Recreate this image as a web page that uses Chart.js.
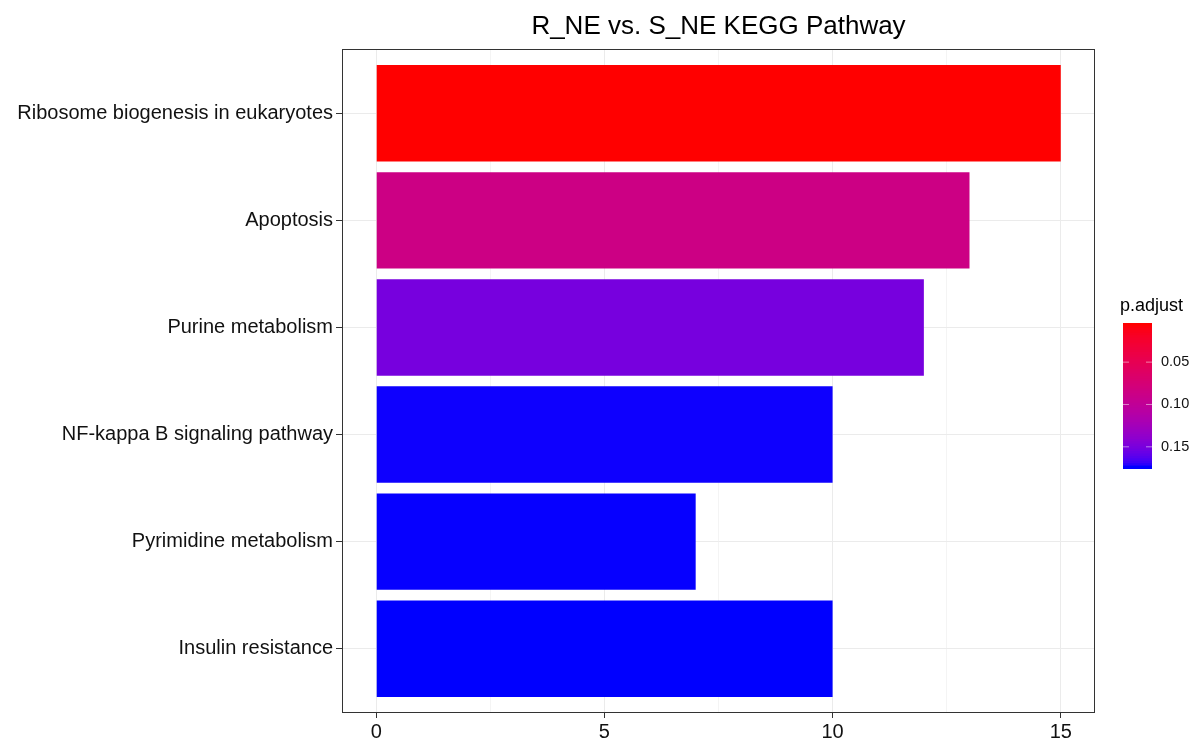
<!DOCTYPE html>
<html>
<head>
<meta charset="utf-8">
<script src="https://cdn.jsdelivr.net/npm/chart.js@4.4.1/dist/chart.umd.min.js"></script>
<style>
  html, body { margin: 0; padding: 0; background: #ffffff; }
  #wrap { width: 1198px; height: 740px; position: relative; }
</style>
</head>
<body>
<div id="wrap"><canvas id="c" width="1198" height="740"></canvas></div>
<script>
// ---- data ----
const chartTitle = "R_NE vs. S_NE KEGG Pathway";
const categories = [
  "Ribosome biogenesis in eukaryotes",
  "Apoptosis",
  "Purine metabolism",
  "NF-kappa B signaling pathway",
  "Pyrimidine metabolism",
  "Insulin resistance"
];
const counts = [15, 13, 12, 10, 7, 10];
const pAdjust = [0.0038, 0.086, 0.152, 0.1745, 0.1748, 0.175];
const xTickValues = [0, 2.5, 5, 7.5, 10, 12.5, 15];
const legendTitle = "p.adjust";
const legendTicks = [0.05, 0.10, 0.15];

// ---- colour scale (Lab interpolation red -> blue, like ggplot) ----
function toLin(c){ c/=255; return c<=0.04045 ? c/12.92 : Math.pow((c+0.055)/1.055, 2.4); }
function fromLin(c){ c = c<=0.0031308 ? 12.92*c : 1.055*Math.pow(c,1/2.4)-0.055; return Math.round(Math.max(0,Math.min(1,c))*255); }
function f(t){ return t>0.008856 ? Math.cbrt(t) : 7.787*t+16/116; }
function finv(t){ const t3=t*t*t; return t3>0.008856 ? t3 : (t-16/116)/7.787; }
function rgb2lab(r,g,b){
  const R=toLin(r),G=toLin(g),B=toLin(b);
  const X=(0.4124564*R+0.3575761*G+0.1804375*B)/0.95047;
  const Y=(0.2126729*R+0.7151522*G+0.0721750*B);
  const Z=(0.0193339*R+0.1191920*G+0.9503041*B)/1.08883;
  const fx=f(X),fy=f(Y),fz=f(Z);
  return [116*fy-16, 500*(fx-fy), 200*(fy-fz)];
}
function lab2rgb(L,a,b){
  const fy=(L+16)/116, fx=fy+a/500, fz=fy-b/200;
  const X=finv(fx)*0.95047, Y=finv(fy), Z=finv(fz)*1.08883;
  const R= 3.2404542*X-1.5371385*Y-0.4985314*Z;
  const G=-0.9692660*X+1.8760108*Y+0.0415560*Z;
  const B= 0.0556434*X-0.2040259*Y+1.0572252*Z;
  return `rgb(${fromLin(R)},${fromLin(G)},${fromLin(B)})`;
}
const labLow = rgb2lab(255,0,0), labHigh = rgb2lab(0,0,255);
const pMin = Math.min(...pAdjust), pMax = Math.max(...pAdjust);
function colorAt(t){
  return lab2rgb(labLow[0]+(labHigh[0]-labLow[0])*t, labLow[1]+(labHigh[1]-labLow[1])*t, labLow[2]+(labHigh[2]-labLow[2])*t);
}
function colorForP(p){ return colorAt((p-pMin)/(pMax-pMin)); }

const FONT = "'Liberation Sans', Arial, Helvetica, sans-serif";

const decorPlugin = {
  id: 'decor',
  afterDatasetsDraw(chart){
    const {ctx, chartArea:a} = chart;
    ctx.save();
    ctx.strokeStyle = '#333333';
    ctx.lineWidth = 1;
    ctx.strokeRect(Math.round(a.left)+0.5, Math.round(a.top)+0.5, Math.round(a.right-a.left)-1, Math.round(a.bottom-a.top)-1);
    ctx.restore();
  },
  afterDraw(chart){
    const {ctx, chartArea:a} = chart;
    ctx.save();
    // title
    ctx.fillStyle = '#000000';
    ctx.font = `26px ${FONT}`;
    ctx.textAlign = 'center';
    ctx.textBaseline = 'middle';
    ctx.fillText(chartTitle, (a.left+a.right)/2, 27);
    // legend colour bar
    const bx = 1123, bw = 29, by = 323, bh = 145;
    ctx.font = `18px ${FONT}`;
    ctx.textAlign = 'left';
    ctx.fillText(legendTitle, bx-3, 306);
    const n = 60;
    for (let i=0;i<n;i++){
      ctx.fillStyle = colorAt(i/(n-1));
      const y0 = by + bh*i/n;
      ctx.fillRect(bx, y0, bw, bh/n + 1);
    }
    ctx.fillStyle = colorAt(1);
    ctx.fillRect(bx, by+bh-2, bw, 2);
    ctx.font = `14.5px ${FONT}`;
    ctx.textBaseline = 'middle';
    legendTicks.forEach(v => {
      const y = by + (v-pMin)/(pMax-pMin)*bh;
      ctx.strokeStyle = 'rgba(255,255,255,0.5)';
      ctx.lineWidth = 1;
      ctx.beginPath();
      ctx.moveTo(bx, y); ctx.lineTo(bx+6, y);
      ctx.moveTo(bx+bw-6, y); ctx.lineTo(bx+bw, y);
      ctx.stroke();
      ctx.fillStyle = '#111111';
      ctx.fillText(v.toFixed(2), 1161, y);
    });
    ctx.restore();
  }
};

new Chart(document.getElementById('c'), {
  type: 'bar',
  data: {
    datasets: [{
      data: counts.map((v,i) => ({x: v, y: i})),
      backgroundColor: pAdjust.map(colorForP),
      borderWidth: 0,
      barPercentage: 0.9,
      categoryPercentage: 1.0
    }]
  },
  options: {
    indexAxis: 'y',
    responsive: false,
    animation: false,
    devicePixelRatio: 1,
    layout: { padding: { top: 49, right: 103, left: 0, bottom: 0 } },
    plugins: { legend: { display: false }, tooltip: { enabled: false }, title: { display: false } },
    scales: {
      x: {
        type: 'linear',
        min: -0.75, max: 15.75,
        offset: false,
        afterBuildTicks: s => { s.ticks = xTickValues.map(v => ({value: v})); },
        afterFit: s => { s.height = 27; },
        ticks: {
          autoSkip: false, maxRotation: 0,
          padding: 2,
          color: '#111111',
          font: { family: FONT, size: 20 },
          callback: v => (v % 5 === 0 ? String(v) : '')
        },
        grid: {
          offset: false,
          color: c => (c.tick && c.tick.value % 5 === 0 ? '#EBEBEB' : '#F4F4F4'),
          lineWidth: 1,
          tickLength: 5,
          tickColor: c => (c.tick && c.tick.value % 5 === 0 ? '#333333' : 'rgba(0,0,0,0)')
        },
        border: { display: false }
      },
      y: {
        type: 'linear',
        reverse: true,
        offset: false,
        min: -0.6, max: 5.6,
        afterBuildTicks: s => { s.ticks = categories.map((_, i) => ({value: i})); },
        afterFit: s => { s.width = 342; },
        ticks: {
          autoSkip: false,
          padding: 3,
          color: '#111111',
          font: { family: FONT, size: 20 },
          callback: v => categories[v] ?? ''
        },
        grid: { offset: false, color: '#EBEBEB', lineWidth: 1, tickLength: 6, tickColor: '#333333' },
        border: { display: false }
      }
    }
  },
  plugins: [decorPlugin]
});
</script>
</body>
</html>
